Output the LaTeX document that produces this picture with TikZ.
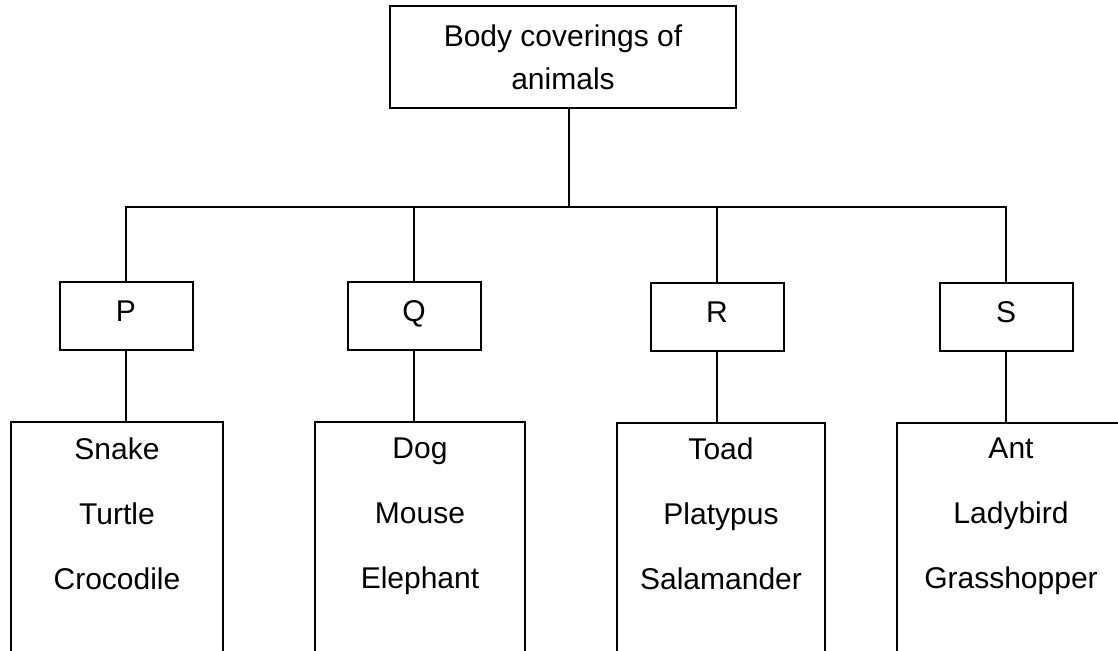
\documentclass[tikz,border=0pt]{standalone}
\usepackage{fontspec}
\setmainfont{Liberation Sans}
\usepackage{tikz}
\usetikzlibrary{
  positioning
}

\begin{document}
\begin{tikzpicture}[x=0.5pt, y=-0.5pt, line width=1pt,
  box/.style={draw, inner sep=0pt},
  group/.style={box, minimum width=66.5pt, minimum height=34pt,
    text height=10.7pt, text depth=5.5pt, font=\fontsize{15}{18}\selectfont},
  animals/.style={inner sep=0pt, align=center, font=\fontsize{15}{32.5}\selectfont}]
  \clip (0,0) rectangle (1118,651);
  \node [box, minimum width=173pt, minimum height=51pt, align=center,
         font=\fontsize{15}{21.5}\selectfont] (top) at (563,57) {Body coverings of \\ animals};
  \coordinate (bus) at (569,207);
  \node [group] (p) at (126,316) {P};
  \node [group] (q) at (414,316) {Q};
  \node [group] (r) at (717,317) {R};
  \node [group] (s) at (1006,317) {S};
  \node [box, minimum width=106pt, minimum height=129pt] (plist) at (117,551) {};
  \node [box, minimum width=105pt, minimum height=129pt] (qlist) at (420,551) {};
  \node [box, minimum width=104pt, minimum height=129pt] (rlist) at (721,552) {};
  \node [box, minimum width=114pt, minimum height=129pt] (slist) at (1011,552) {};
  \node [animals, below=8pt of plist.north] (pnames) {Snake \\ Turtle \\ Crocodile};
  \node [animals, below=8pt of qlist.north] (qnames) {Dog \\ Mouse \\ Elephant};
  \node [animals, below=7.5pt of rlist.north] (rnames) {Toad \\ Platypus \\ Salamander};
  \node [animals, below=7.5pt of slist.north] (snames) {Ant \\ Ladybird \\ Grasshopper};
  \draw (top.south -| bus) -- (bus);
  \draw (p.north) |- (bus) -| (s.north);
  \draw (q.north) -- (q.north |- bus);
  \draw (r.north) -- (r.north |- bus);
  \draw (p.south) -- (p.south |- plist.north);
  \draw (q.south) -- (q.south |- qlist.north);
  \draw (r.south) -- (r.south |- rlist.north);
  \draw (s.south) -- (s.south |- slist.north);
\end{tikzpicture}
\end{document}
